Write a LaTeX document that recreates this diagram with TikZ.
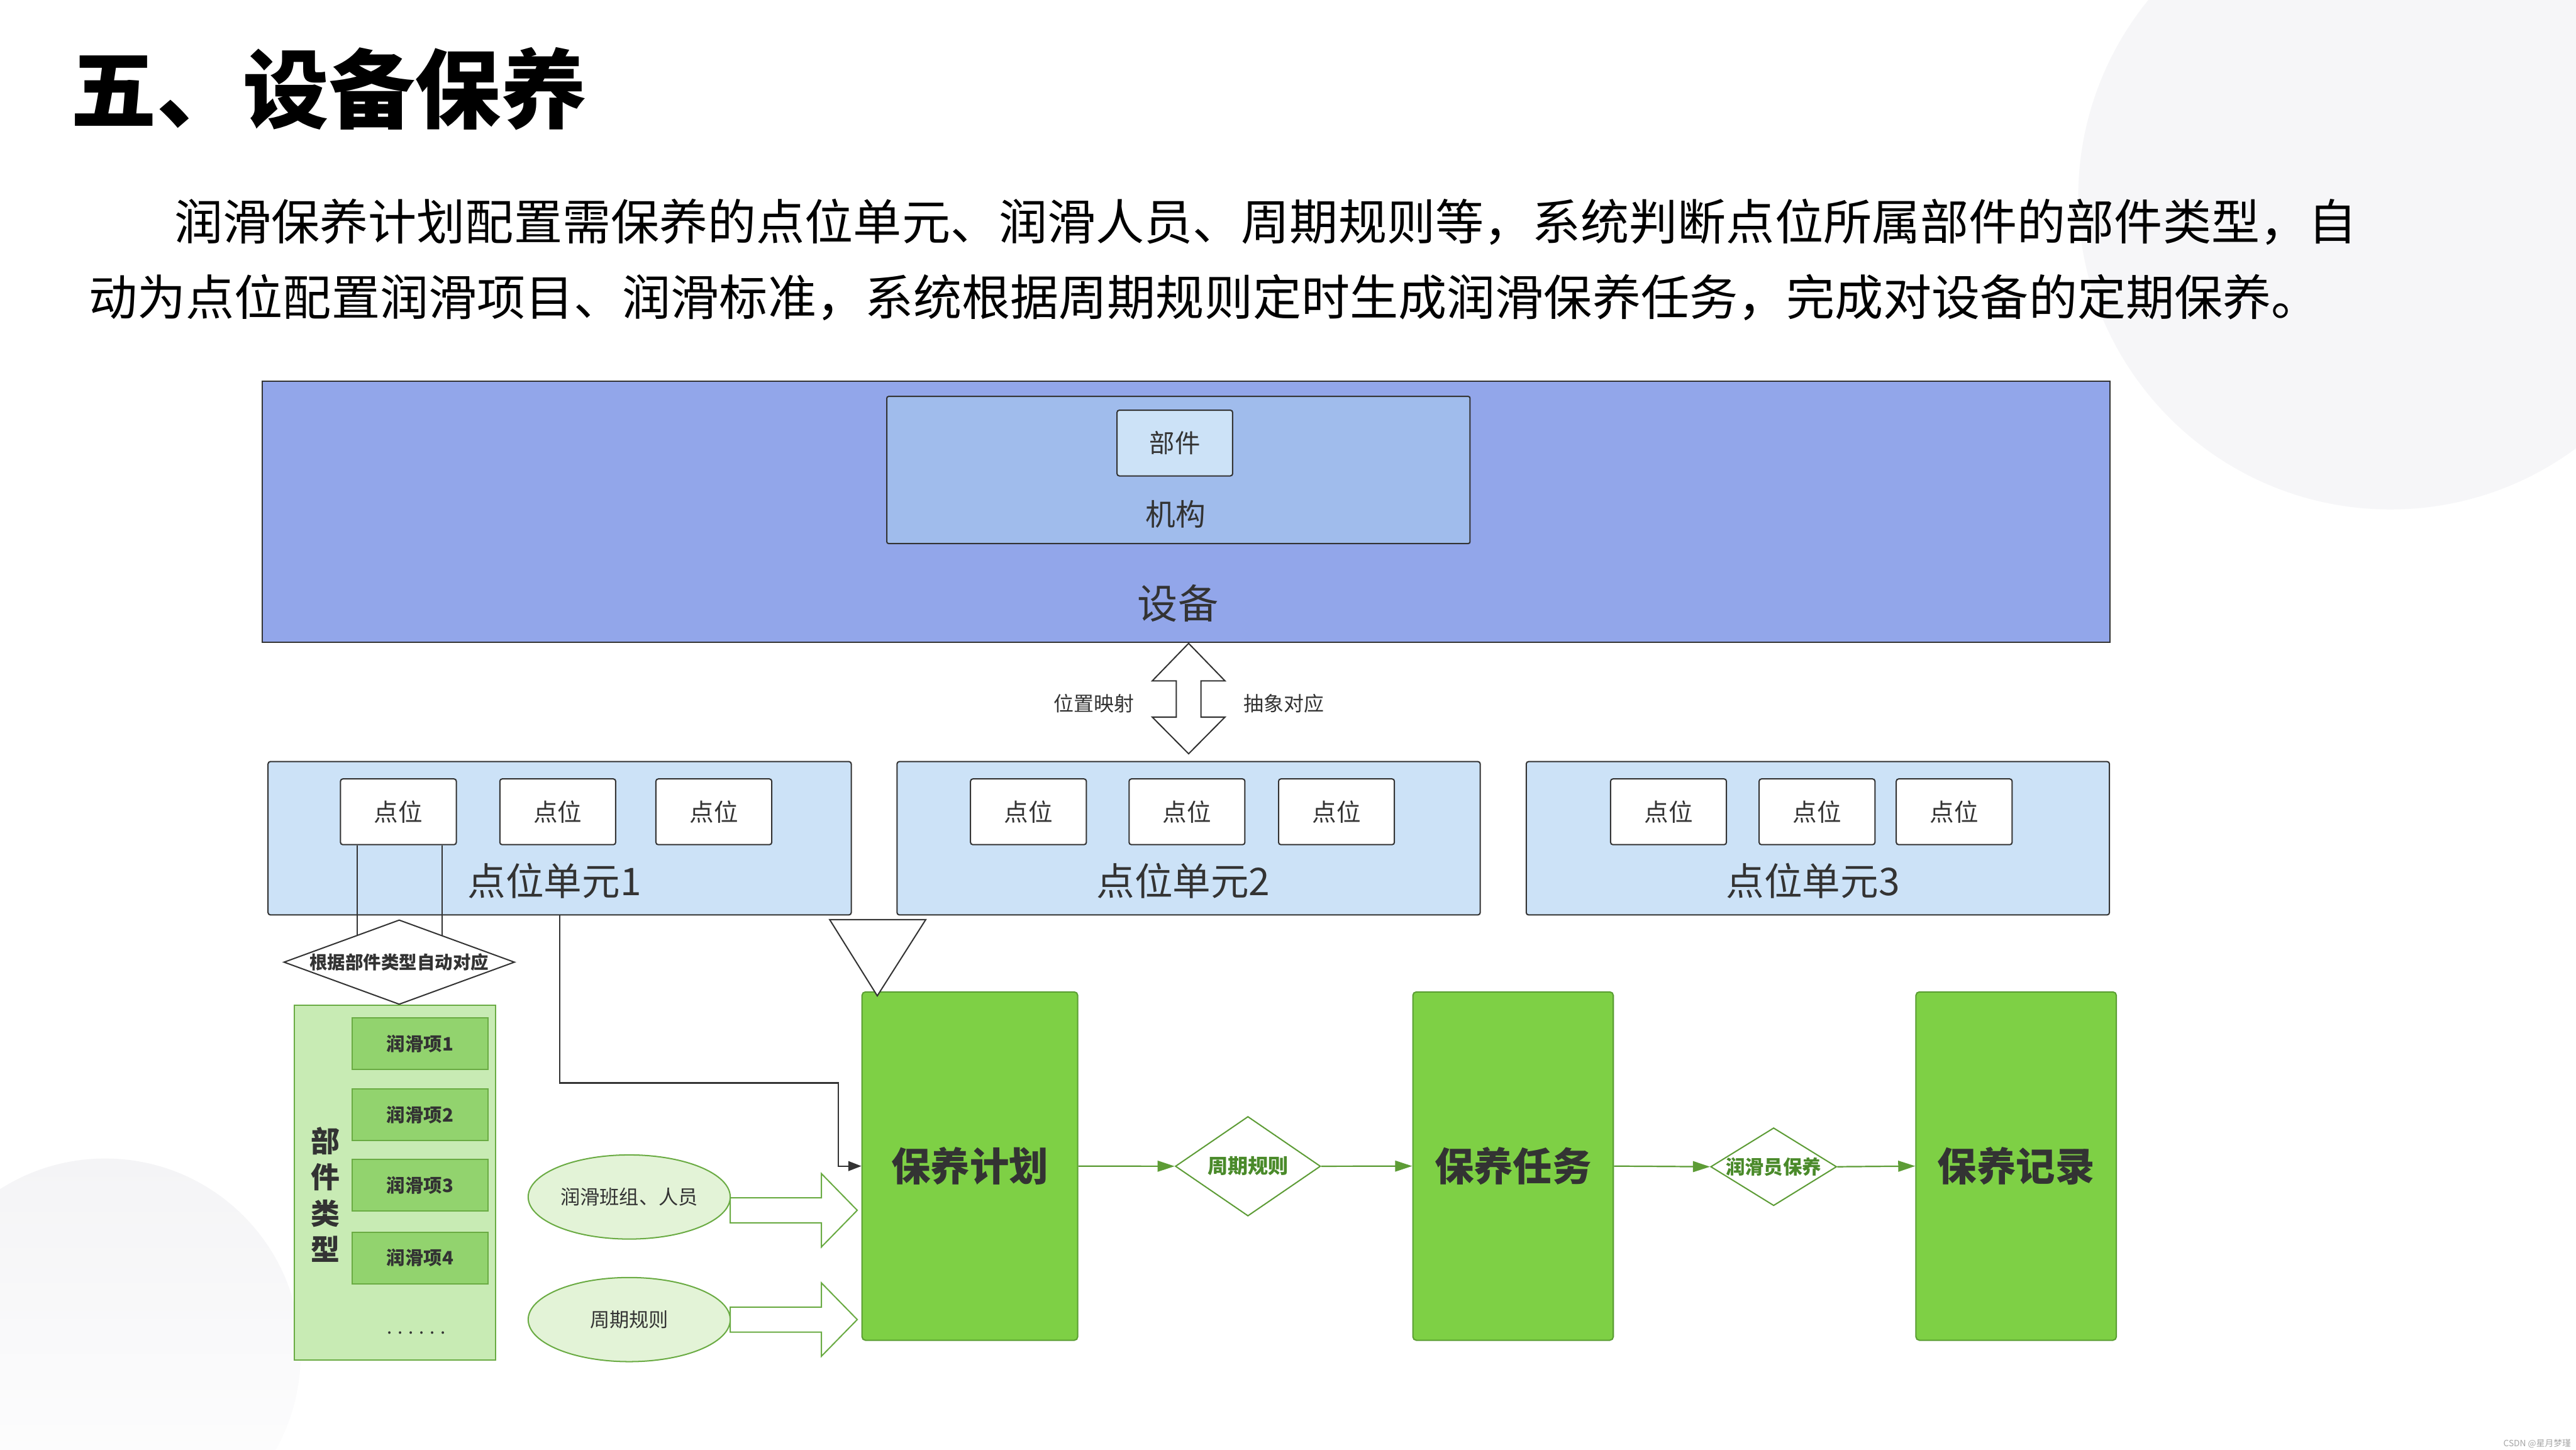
\documentclass[tikz,border=0pt]{standalone}
\usepackage{fontspec}
\setmainfont{Noto Sans CJK SC}
\usetikzlibrary{shapes.geometric,arrows.meta}
\definecolor{txt}{HTML}{333333}
\definecolor{devfill}{RGB}{146,166,234}
\definecolor{mechfill}{RGB}{160,188,236}
\definecolor{unitfill}{RGB}{204,226,247}
\definecolor{planfill}{RGB}{126,208,69}
\definecolor{planline}{RGB}{90,158,50}
\definecolor{itemfill}{RGB}{146,211,110}
\definecolor{typefill}{RGB}{200,235,180}
\definecolor{softgreen}{RGB}{227,243,215}
\definecolor{greenline}{RGB}{106,171,67}
\definecolor{flowgreen}{RGB}{93,156,54}
\definecolor{condtext}{RGB}{74,138,42}
\definecolor{bgcircle}{RGB}{246,246,248}
\definecolor{bgtop}{RGB}{244,244,246}

\begin{document}
\begin{tikzpicture}[x=0.05cm, y=-0.05cm,
  box/.style={draw=txt, line width=1.1pt, rounded corners=2pt, text=txt, inner sep=0pt},
  ptbox/.style={box, fill=white, minimum width=3.525cm, minimum height=2cm, font=\fontsize{21pt}{21pt}\selectfont},
  unitbox/.style={box, fill=unitfill, minimum width=17.75cm, minimum height=4.665cm},
  unitlabel/.style={text=txt, inner sep=0pt, font=\fontsize{33pt}{33pt}\selectfont},
  item/.style={draw=greenline, line width=1.1pt, fill=itemfill, minimum width=4.13cm, minimum height=1.565cm, inner sep=0pt, text=txt, font=\bfseries\fontsize{16pt}{16pt}\selectfont},
  stage/.style={draw=planline, line width=1.1pt, fill=planfill, rounded corners=3pt, minimum height=10.6cm, inner sep=0pt, text=txt, font=\bfseries\fontsize{34pt}{34pt}\selectfont},
  cond/.style={diamond, draw=flowgreen, line width=1.1pt, fill=white, inner sep=0pt, text=condtext, font=\bfseries\fontsize{17.5pt}{17.5pt}\selectfont},
  source/.style={ellipse, draw=greenline, line width=1.1pt, fill=softgreen, minimum width=6.15cm, minimum height=2.56cm, inner sep=0pt, text=txt, font=\fontsize{17pt}{17pt}\selectfont},
  sidetext/.style={text=txt, inner sep=0pt, font=\fontsize{17.4pt}{17.4pt}\selectfont},
  link/.style={draw=txt, line width=1.1pt},
  flow/.style={draw=flowgreen, line width=1.2pt, -{Triangle[length=0.52cm,width=0.33cm]}}]
\useasboundingbox (0,0) rectangle (1568,882);
\fill[white] (0,0) rectangle (1568,882);
\begin{scope}
\clip (0,0) rectangle (1568,882);
\fill[bgcircle] (1455,120) circle (9.5cm);
\shade[top color=bgtop, bottom color=white] (64,824) circle (5.95cm);
\end{scope}

\node[anchor=west, inner sep=0pt, font=\bfseries\fontsize{74.5pt}{74.5pt}\selectfont] (title) at (43,54) {五、设备保养};
\node[anchor=west, inner sep=0pt, font=\fontsize{42pt}{42pt}\selectfont] (line1) at (106,135) {润滑保养计划配置需保养的点位单元、润滑人员、周期规则等，系统判断点位所属部件的部件类型，自};
\node[anchor=west, inner sep=0pt, font=\fontsize{42pt}{42pt}\selectfont] (line2) at (54,181) {动为点位配置润滑项目、润滑标准，系统根据周期规则定时生成润滑保养任务，完成对设备的定期保养。};

\node[box, rounded corners=0pt, fill=devfill, minimum width=56.25cm, minimum height=7.94cm] (dev) at (722,311.4) {};
\node[text=txt, inner sep=0pt, font=\fontsize{35pt}{35pt}\selectfont] (devlabel) at (717,367) {设备};
\node[box, rounded corners=1.5pt, fill=mechfill, minimum width=17.75cm, minimum height=4.475cm] (mech) at (717.3,286) {};
\node[text=txt, inner sep=0pt, font=\fontsize{26pt}{26pt}\selectfont] (mechlabel) at (715.5,313) {机构};
\node[box, fill=unitfill, minimum width=3.52cm, minimum height=2cm, font=\fontsize{22pt}{22pt}\selectfont] (part) at (715.1,269.6) {部件};

\draw[link, fill=white] (723.5,391.5) -- (745.6,414.3) -- (731,414.3) -- (731,436.4) -- (745.6,436.4) -- (723.5,458.7) -- (701.4,436.4) -- (716,436.4) -- (716,414.3) -- (701.4,414.3) -- cycle;
\node[sidetext] (maplabel) at (666,428) {位置映射};
\node[sidetext] (abslabel) at (781.5,428) {抽象对应};

\node[unitbox] (u1) at (340.65,510.1) {};
\node[unitbox] (u2) at (723.5,510.1) {};
\node[unitbox] (u3) at (1106.5,510.1) {};
\node[unitlabel] (u1label) at (337.5,536) {点位单元1};
\node[unitlabel] (u2label) at (720.3,536) {点位单元2};
\node[unitlabel] (u3label) at (1103.5,536) {点位单元3};
\node[ptbox] (p11) at (242.5,494) {点位};
\node[ptbox] (p12) at (339.5,494) {点位};
\node[ptbox] (p13) at (434.5,494) {点位};
\node[ptbox] (p21) at (626,494) {点位};
\node[ptbox] (p22) at (722.5,494) {点位};
\node[ptbox] (p23) at (813.5,494) {点位};
\node[ptbox] (p31) at (1015.6,494) {点位};
\node[ptbox] (p32) at (1106,494) {点位};
\node[ptbox] (p33) at (1189.5,494) {点位};

\node[diamond, draw=txt, line width=1.1pt, fill=white, aspect=2.73, minimum width=7.025cm, minimum height=2.575cm, inner sep=0pt, text=txt, font=\bfseries\fontsize{15.5pt}{15.5pt}\selectfont] (match) at (243,585.5) {根据部件类型自动对应};
\draw[link] ([xshift=0.525cm]p11.south west) -- ++(0,55);
\draw[link] ([xshift=-0.45cm]p11.south east) -- ++(0,55);

\node[draw=greenline, line width=1.1pt, fill=typefill, minimum width=6.13cm, minimum height=10.8cm, inner sep=0pt] (ptype) at (240.3,719.7) {};
\node[text=txt, align=center, inner sep=0pt, font=\bfseries\fontsize{25pt}{31.3pt}\selectfont] (ptypelabel) at (198.2,727) {部\\件\\类\\型};
\node[item] (it1) at (255.7,635.2) {润滑项1};
\node[item] (it2) at (255.7,678.4) {润滑项2};
\node[item] (it3) at (255.7,721.3) {润滑项3};
\node[item] (it4) at (255.7,765.5) {润滑项4};
\node[text=txt, inner sep=0pt, font=\fontsize{16pt}{16pt}\selectfont] (more) at (253.5,811) {. . . . . .};

\node[stage, minimum width=6.565cm] (plan) at (590.35,709.6) {保养计划};
\node[stage, minimum width=6.1cm] (task) at (921,709.6) {保养任务};
\node[stage, minimum width=6.1cm] (rec) at (1227.2,709.6) {保养记录};
\draw[link, fill=white] (505,559.6) -- (563.5,559.6) -- (534,606) -- cycle;

\node[source] (crew) at (383,728.4) {润滑班组、人员};
\node[source] (cycle) at (383,803) {周期规则};
\draw[draw=greenline, line width=1.1pt, fill=white] (444.5,728.9) -- (500,728.9) -- (500,714.2) -- (521.8,736.5) -- (500,758.8) -- (500,744.1) -- (444.5,744.1) -- cycle;
\draw[draw=greenline, line width=1.1pt, fill=white] (444.5,795.4) -- (500,795.4) -- (500,780.7) -- (521.8,803) -- (500,825.3) -- (500,810.6) -- (444.5,810.6) -- cycle;

\coordinate (bend) at (510.2,659);
\draw[link, -{Triangle[length=0.4cm,width=0.3cm]}] (u1.south) |- (bend) |- (plan.west);

\node[cond, aspect=1.46, minimum width=4.42cm, minimum height=3.03cm] (rule) at (759.6,709.7) {周期规则};
\node[cond, aspect=1.62, minimum width=3.83cm, minimum height=2.37cm, font=\bfseries\fontsize{16.6pt}{16.6pt}\selectfont] (staff) at (1079.6,710) {润滑员保养};
\draw[flow] (plan.east) -- (rule.west);
\draw[flow] (rule.east) -- (task.west);
\draw[flow] (task.east) -- (staff.west);
\draw[flow] (staff.east) -- (rec.west);

\node[anchor=east, text=gray!70, inner sep=0pt, font=\fontsize{7.5pt}{7.5pt}\selectfont] (mark) at (1565,878.5) {CSDN @星月梦瑾};
\end{tikzpicture}
\end{document}
